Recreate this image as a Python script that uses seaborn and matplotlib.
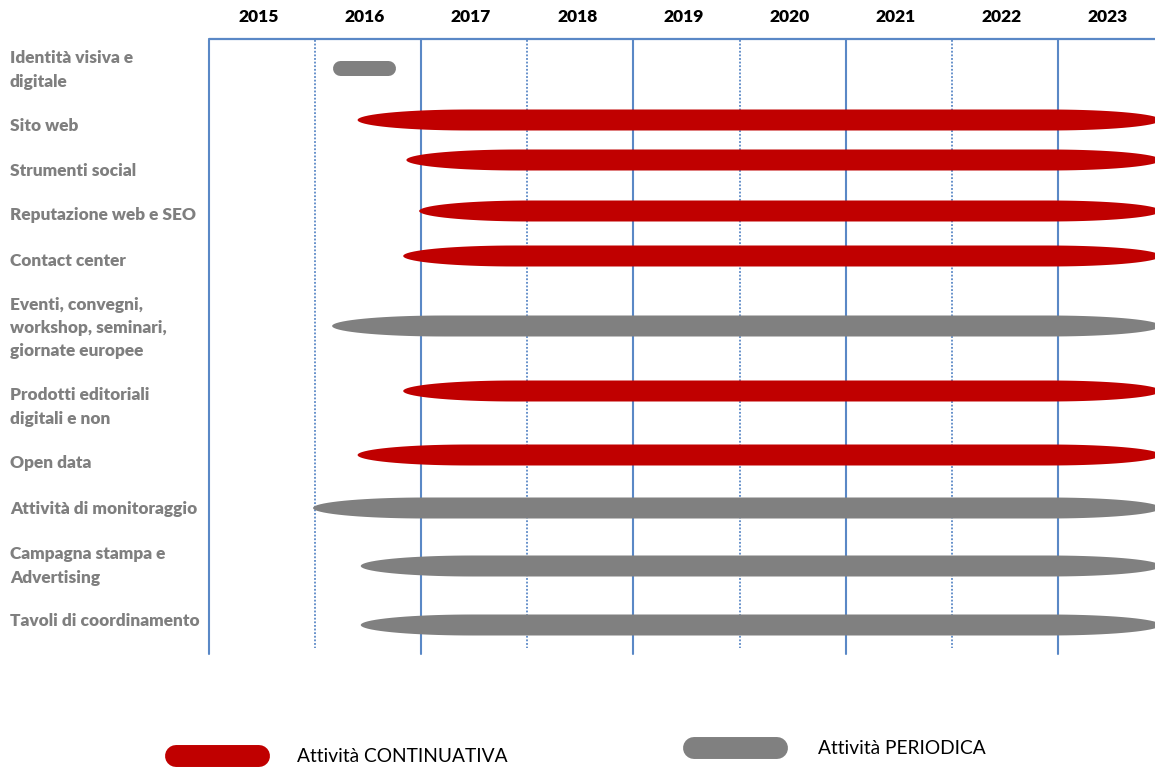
import matplotlib
matplotlib.use("Agg")
import matplotlib.pyplot as plt
from matplotlib.patches import Polygon
import numpy as np
import seaborn as sns

# ---- data ----
years = [2015, 2016, 2017, 2018, 2019, 2020, 2021, 2022, 2023]
activities = [
    "Identità visiva e\ndigitale",
    "Sito web",
    "Strumenti social",
    "Reputazione web e SEO",
    "Contact center",
    "Eventi, convegni,\nworkshop, seminari,\ngiornate europee",
    "Prodotti editoriali\ndigitali e non",
    "Open data",
    "Attività di monitoraggio",
    "Campagna stampa e\nAdvertising",
    "Tavoli di coordinamento",
]
start = [2016.17, 2016.40, 2016.86, 2016.98, 2016.83, 2016.16, 2016.83, 2016.40, 2015.98, 2016.43, 2016.43]
end = [2016.75, 2023.97, 2023.97, 2023.97, 2023.97, 2023.97, 2023.97, 2023.97, 2023.97, 2023.97, 2023.97]
kind = ["PERIODICA", "CONTINUATIVA", "CONTINUATIVA", "CONTINUATIVA", "CONTINUATIVA",
        "PERIODICA", "CONTINUATIVA", "CONTINUATIVA", "PERIODICA", "PERIODICA", "PERIODICA"]
legend_labels = ["Attività CONTINUATIVA", "Attività PERIODICA"]

# ---- layout (pixel rows) ----
bar_y = [68, 120, 160, 211, 256, 326, 391, 455, 508, 566, 625]
label_y = [70, 126, 171, 215, 261, 328, 407, 463, 509, 566, 621]

colors = {"CONTINUATIVA": "#C00000", "PERIODICA": "#808080"}
blue = "#5A88C6"

sns.set_theme(style="white")
plt.rcParams["font.family"] = ["Lato", "DejaVu Sans"]

W, H = 1155, 772
fig = plt.figure(figsize=(W / 100, H / 100), dpi=100)
ax = fig.add_axes([0, 0, 1, 1])
px_per_year = 106.1
x0 = 2015 - 209 / px_per_year
ax.set_xlim(x0, x0 + W / px_per_year)
ax.set_ylim(H, 0)
ax.axis("off")

def px2yr(px):
    return x0 + px / px_per_year

# grid lines
for i, yr in enumerate(years):
    if i % 2 == 0:
        ax.plot([yr, yr], [40, 654], color=blue, lw=1.5, zorder=1)
    else:
        ax.plot([yr, yr], [40, 648], color=blue, lw=1.3, ls=(0, (1, 1)), zorder=1)
ax.plot([years[0], x0 + W / px_per_year], [38.5, 38.5], color=blue, lw=1.6, zorder=1)

# year labels
for yr in years:
    ax.text(yr + 0.47, 17, str(yr), ha="center", va="center", fontsize=12.5,
            fontweight="heavy", color="black")

# bars: long stadium shapes with elongated elliptical caps
cap = 112 / px_per_year   # horizontal semi-axis of the caps (years)
half_h = 10.5             # half height (px)
th_l = np.linspace(np.pi / 2, 3 * np.pi / 2, 40)
th_r = np.linspace(-np.pi / 2, np.pi / 2, 40)
for s, e, k, yb in zip(start, end, kind, bar_y):
    if e - s < 1:
        ax.plot([s + 7 / px_per_year, e - 7 / px_per_year], [yb, yb], color=colors[k],
                lw=10.8, solid_capstyle="round", zorder=2)
    else:
        lx = s + cap + cap * np.cos(th_l)
        ly = yb - half_h * np.sin(th_l)
        rx = e - cap + cap * np.cos(th_r)
        ry = yb - half_h * np.sin(th_r)
        pts = np.column_stack([np.concatenate([lx, rx]), np.concatenate([ly, ry])])
        ax.add_patch(Polygon(pts, closed=True, facecolor=colors[k], lw=0, zorder=2))

# row labels
for lab, yl in zip(activities, label_y):
    ax.text(px2yr(10), yl, lab, ha="left", va="center", fontsize=12.4, fontweight="heavy",
            color="#7F7F7F", linespacing=1.55)

# legend
leg_pos = [(165, 270, 756, 297), (683, 788, 748, 818)]
for (xa, xb, yy, xt), lab, k in zip(leg_pos, legend_labels, ["CONTINUATIVA", "PERIODICA"]):
    ax.plot([px2yr(xa + 11), px2yr(xb - 11)], [yy, yy], color=colors[k], lw=15.8,
            solid_capstyle="round", zorder=2)
    ax.text(px2yr(xt), yy + 1, lab, ha="left", va="center", fontsize=13.8, color="black")

fig.savefig("out.png", dpi=100)
